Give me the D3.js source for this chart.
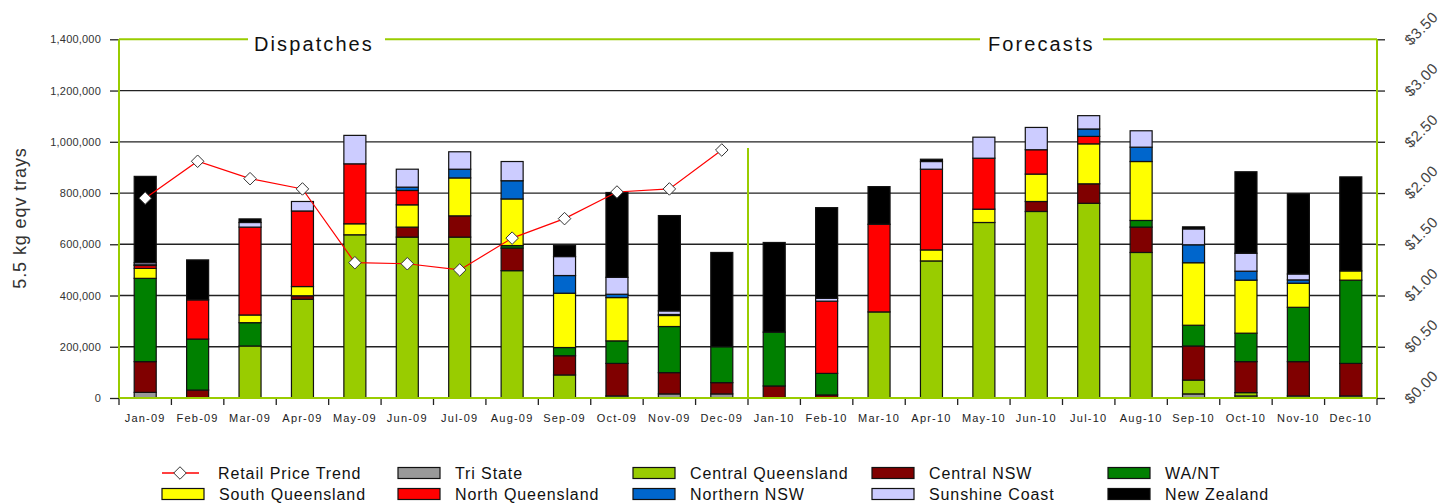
<!DOCTYPE html>
<html><head><meta charset="utf-8">
<script src="https://cdn.jsdelivr.net/npm/d3@7"></script>
<style>body{margin:0;background:#fff;} svg{display:block;font-family:"Liberation Sans",Arial,sans-serif;}</style>
</head><body>
<svg id="chart" width="1445" height="504"></svg>
<script>
const months = ["Jan-09","Feb-09","Mar-09","Apr-09","May-09","Jun-09","Jul-09","Aug-09","Sep-09","Oct-09","Nov-09","Dec-09",
                "Jan-10","Feb-10","Mar-10","Apr-10","May-10","Jun-10","Jul-10","Aug-10","Sep-10","Oct-10","Nov-10","Dec-10"];
const seriesNames = ["Tri State","Central Queensland","Central NSW","WA/NT","South Queensland","North Queensland","Northern NSW","Sunshine Coast","New Zealand"];
const seriesColors = ["#999999","#99CC00","#800000","#008000","#FFFF00","#FF0000","#0066CC","#CCCCFF","#000000"];
const triState        = [22000,0,0,0,0,0,0,0,0,8000,16000,16000, 0,0,0,0,0,0,0,0,16000,8000,8000,8000];
const centralQld      = [0,0,203000,385000,637000,628000,628000,497000,90000,0,0,0, 0,0,336000,535000,685000,728000,760000,568000,54000,13000,0,0];
const centralNSW      = [120000,31000,0,14000,0,39000,83000,88000,75000,127000,83000,44000, 47000,12000,0,0,0,39000,76000,99000,133000,121000,134000,127000];
const waNT            = [325000,199000,91000,0,0,0,0,10000,32000,88000,180000,140000, 210000,84000,0,0,0,0,0,26000,81000,111000,212000,325000];
const southQld        = [39000,0,30000,36000,43000,87000,148000,182000,212000,169000,43000,0, 0,0,0,43000,52000,107000,156000,230000,244000,207000,94000,36000];
const northQld        = [11000,153000,343000,295000,234000,56000,0,0,0,0,0,0, 0,282000,342000,315000,199000,95000,29000,0,0,0,0,0];
const northernNSW     = [3000,0,0,0,0,13000,34000,71000,69000,13000,4000,0, 0,0,0,0,0,0,29000,56000,70000,35000,13000,0];
const sunshineCoast   = [8000,0,18000,37000,111000,70000,68000,75000,74000,66000,14000,0, 0,11000,0,30000,82000,87000,52000,64000,62000,70000,23000,0];
const newZealand      = [337000,156000,14000,0,0,0,0,0,43000,331000,372000,368000, 350000,354000,147000,9000,0,0,0,0,8000,318000,313000,367000];
const retailPrice     = [1.95,2.31,2.14,2.04,1.32,1.31,1.25,1.56,1.75,2.01,2.04,2.42];
const leftTicks = [0,200000,400000,600000,800000,1000000,1200000,1400000];
const rightTicks = [0,0.5,1,1.5,2,2.5,3,3.5];

const seriesValues = [triState,centralQld,centralNSW,waNT,southQld,northQld,northernNSW,sunshineCoast,newZealand];
const rows = months.map((m,i)=>{const r={month:m}; seriesNames.forEach((s,j)=>r[s]=seriesValues[j][i]); return r;});

const svg = d3.select("#chart");
const L=119, R=1377, T=39.3, B=398;
const x = d3.scaleBand().domain(months).range([L,R]).paddingInner(0.58).paddingOuter(0.29);
const y = d3.scaleLinear().domain([0,1400000]).range([B,T]);
const y2 = d3.scaleLinear().domain([0,3.5]).range([B,T]);
const green = "#99CC00";

// gridlines
svg.append("g").selectAll("line").data(leftTicks.filter(t=>t>0 && t<1400000)).join("line")
  .attr("x1",L).attr("x2",R).attr("y1",d=>y(d)).attr("y2",d=>y(d)).attr("stroke","#222").attr("stroke-width",1.3);

// left axis
const ya = svg.append("g").attr("transform",`translate(${L},0)`)
  .call(d3.axisLeft(y).tickValues(leftTicks).tickFormat(d3.format(",")).tickSize(9).tickPadding(9));
ya.select(".domain").remove();
ya.selectAll("line").attr("stroke","#222").attr("stroke-width",1.3);
ya.selectAll("text").attr("font-size",11).attr("fill","#333").attr("letter-spacing","0.2").attr("font-family","Liberation Sans, Arial");

// right axis
const ra = svg.append("g").attr("transform",`translate(${R},0)`)
  .call(d3.axisRight(y2).tickValues(rightTicks).tickSize(8).tickFormat(""));
ra.select(".domain").remove();
ra.selectAll("line").attr("stroke","#222").attr("stroke-width",1.3);
svg.append("g").selectAll("text").data(rightTicks).join("text")
  .attr("transform",d=>`translate(${R+44},${y2(d)-11}) rotate(-45)`)
  .attr("text-anchor","middle").attr("dominant-baseline","central")
  .attr("font-size",15).attr("letter-spacing","0.5").attr("fill","#444").text(d=>"$"+d.toFixed(2));

// bottom axis ticks
const boundaries = d3.range(months.length+1).map(i=>L + i*(R-L)/months.length);
svg.append("g").selectAll("line").data(boundaries).join("line")
  .attr("x1",d=>d).attr("x2",d=>d).attr("y1",B).attr("y2",B+7).attr("stroke","#222").attr("stroke-width",1.3);
svg.append("g").selectAll("text").data(months).join("text")
  .attr("x",d=>x(d)+x.bandwidth()/2).attr("y",B+24).attr("text-anchor","middle")
  .attr("font-size",11).attr("fill","#222").attr("letter-spacing","1.2").text(d=>d);

// stacked bars
const stack = d3.stack().keys(seriesNames)(rows);
svg.append("g").selectAll("g").data(stack).join("g")
  .attr("fill",(d,i)=>seriesColors[i])
  .selectAll("rect").data(d=>d.filter(p=>p[1]-p[0]>0)).join("rect")
  .attr("x",d=>x(d.data.month)).attr("width",x.bandwidth())
  .attr("y",d=>y(d[1])).attr("height",d=>y(d[0])-y(d[1]))
  .attr("stroke","#111").attr("stroke-width",1.2);

// plot border (green)
svg.append("line").attr("x1",L).attr("x2",L).attr("y1",T).attr("y2",B).attr("stroke",green).attr("stroke-width",2);
svg.append("line").attr("x1",R).attr("x2",R).attr("y1",T).attr("y2",B).attr("stroke",green).attr("stroke-width",2);
svg.append("line").attr("x1",L).attr("x2",R).attr("y1",B).attr("y2",B).attr("stroke",green).attr("stroke-width",2);
svg.append("line").attr("x1",L).attr("x2",R).attr("y1",T).attr("y2",T).attr("stroke",green).attr("stroke-width",2);
// separator
const sepX = L + 12*(R-L)/months.length;
svg.append("line").attr("x1",sepX).attr("x2",sepX).attr("y1",148).attr("y2",B).attr("stroke",green).attr("stroke-width",2);

// titles over top border
[["Dispatches",248,385,254],["Forecasts",980,1103,988]].forEach(([t,a,b,tx])=>{
  svg.append("rect").attr("x",a).attr("y",T-4).attr("width",b-a).attr("height",8).attr("fill","#fff");
  svg.append("text").attr("x",tx).attr("y",51).attr("font-size",20).attr("letter-spacing","2.1").attr("fill","#111").text(t);
});

// price line
const priceData = retailPrice.map((v,i)=>({m:months[i],v}));
svg.append("path").datum(priceData)
  .attr("d",d3.line().x(d=>x(d.m)+x.bandwidth()/2).y(d=>y2(d.v)))
  .attr("fill","none").attr("stroke","#FF0000").attr("stroke-width",1.2);
const diamond = d3.symbol().type(d3.symbolDiamond2).size(100);
svg.append("g").selectAll("path").data(priceData).join("path")
  .attr("transform",d=>`translate(${x(d.m)+x.bandwidth()/2},${y2(d.v)})`)
  .attr("d",diamond).attr("fill","#fff").attr("stroke","#333").attr("stroke-width",1);

// y title
svg.append("text").attr("transform","translate(26,218) rotate(-90)").attr("text-anchor","middle")
  .attr("font-size",18).attr("letter-spacing","0.9").attr("fill","#333").text("5.5 kg eqv trays");

// legend
const legendItems = ["Retail Price Trend"].concat(seriesNames);
const colX = [162,398,633,872,1108];
const rowY = [473,494];
const lg = svg.append("g");
legendItems.forEach((name,i)=>{
  const cx = colX[i%5], cy = rowY[Math.floor(i/5)];
  if(i===0){
    lg.append("line").attr("x1",cx).attr("x2",cx+37).attr("y1",cy).attr("y2",cy).attr("stroke","#FF0000").attr("stroke-width",1.5);
    lg.append("path").attr("transform",`translate(${cx+18},${cy})`).attr("d",diamond).attr("fill","#fff").attr("stroke","#333");
    lg.append("text").attr("x",218).attr("y",cy).attr("dominant-baseline","central").attr("font-size",16).attr("letter-spacing","0.9").attr("fill","#111").text(name);
  } else {
    lg.append("rect").attr("x",cx).attr("y",cy-5.5).attr("width",42).attr("height",11)
      .attr("fill",seriesColors[i-1]).attr("stroke","#111").attr("stroke-width",1.2);
    lg.append("text").attr("x",cx+57).attr("y",cy).attr("dominant-baseline","central").attr("font-size",16).attr("letter-spacing","0.9").attr("fill","#111").text(name);
  }
});
</script>
</body></html>
